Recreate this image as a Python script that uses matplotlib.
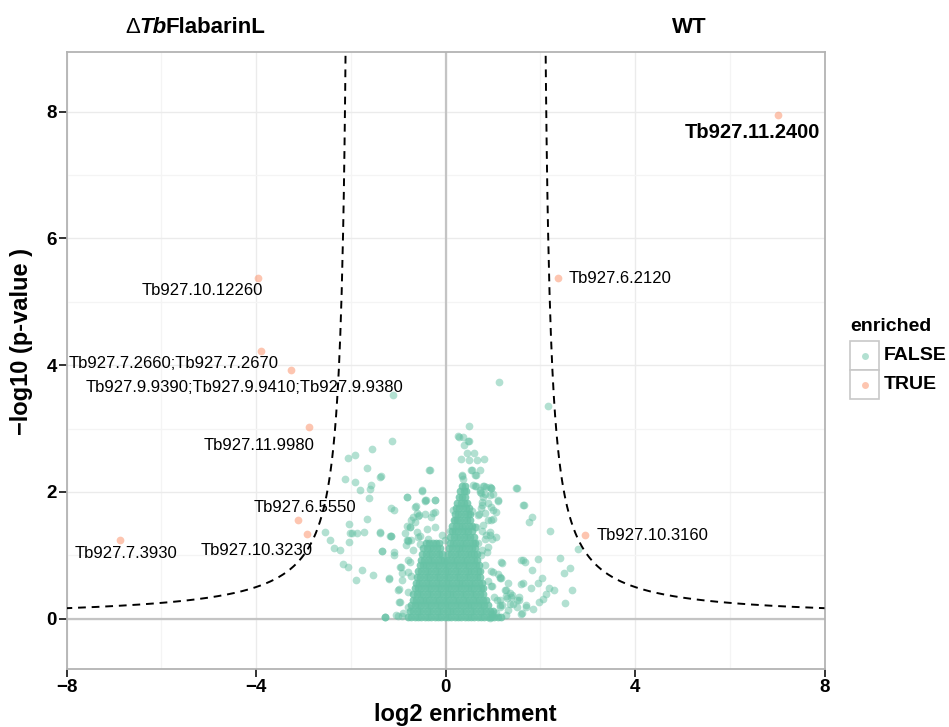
import numpy as np
import matplotlib
matplotlib.use("Agg")
import matplotlib.pyplot as plt
from matplotlib.patches import Rectangle
from matplotlib.lines import Line2D

plt.rcParams["font.family"] = ["Liberation Sans", "DejaVu Sans"]

W, H = 949, 727
GREEN = "#66c2a5"
ORANGE = "#fc8d62"

# enriched (TRUE) proteins: log2 enrichment, -log10 p, label
hit_x = [7.01, 2.38, 2.94, -3.97, -3.90, -3.26, -2.88, -3.12, -2.92, -6.87]
hit_y = [7.94, 5.38, 1.32, 5.38, 4.22, 3.92, 3.02, 1.56, 1.34, 1.24]
hit_names = ["Tb927.11.2400", "Tb927.6.2120", "Tb927.10.3160", "Tb927.10.12260",
             "Tb927.7.2660;Tb927.7.2670", "Tb927.9.9390;Tb927.9.9410;Tb927.9.9380",
             "Tb927.11.9980", "Tb927.6.5550", "Tb927.10.3230", "Tb927.7.3930"]
# label anchor positions (data units)
lab_x = [6.48, 2.60, 3.19, -5.13, -5.75, -4.25, -3.93, -2.96, -3.99, -6.75]
lab_y = [7.67, 5.36, 1.32, 5.17, 4.03, 3.65, 2.73, 1.76, 1.08, 1.03]

# non-enriched (FALSE) proteins, scattered points outside the dense core
bg_x = [-1.12, -1.13, -1.55, -2.06, -1.91, -1.67, -0.34, -2.13, -1.38, -1.91,
        -1.57, -1.60, -1.80, -0.49, -1.62, -0.82, -1.15, -0.64, -0.44, -0.23,
        -1.67, -2.04, -2.54, -1.97, -1.72, -1.39, -1.17, -2.45, -2.04, -2.36,
        -2.24, -1.34, -1.08, -2.17, -2.06, -1.77, -1.90, -1.53, -1.20, -0.93,
        -0.76, -1.00, -0.97, -1.27, -1.00, -2.01, -1.88, -1.16, -0.86, -0.80,
        -0.42, -0.63, -0.69, -0.56, -0.76, -0.23, -0.30, -0.83, -0.73, -1.04,
        -0.82, -0.73, -0.59, -0.55, -0.80, -0.94, -1.29, -0.90,
        -0.33, -1.36, -0.82, -1.10, -0.49, -0.44, -0.23, -0.26, -0.44, -0.61,
        -0.65, -0.75, -0.61, -0.40, -0.23, -0.82, -0.58, -0.37, -0.08, -1.39,
        -1.15, -1.35, -1.10, -0.79, -0.96, -0.79, -1.20, -0.93, -0.72, -0.99,
        -0.79, -0.99, -0.79, -0.93, -1.28, -0.68, -0.54,
        1.12, 2.16, 0.50, 0.27, 0.36, 0.49, 0.39, 0.46, 0.60, 0.32,
        0.49, 0.67, 0.81, 0.53, 0.63, 0.34, 0.37, 1.49, 0.81, 0.96,
        0.64, 0.75, 0.93, 1.10, 0.77, 0.96, 1.65, 1.83, 1.77, 1.00,
        0.79, 0.93, 1.07, 2.21, 2.79, 2.41, 1.96, 1.63, 1.67, 1.19,
        2.62, 2.51, 0.96, 1.10, 1.17, 1.83, 2.03, 1.95, 1.63, 1.31,
        0.96, 1.81, 2.19, 2.29, 2.67, 1.39, 1.56, 1.27, 2.12, 2.05,
        1.97, 2.52, 1.70, 1.84, 1.62, 1.50, 1.20, 1.07, 1.14, 1.36,
        0.86, 0.96, 1.07, 0.75, 0.72, 0.86, 0.79, 0.96, 0.58, 0.72,
        1.14, 1.28, 1.35, 1.14, 1.42, 1.56, 1.70, 1.28, 0.93, 0.28,
        0.47, 0.70, 0.62, 0.55, 0.88, 0.84, 1.02, 0.68, 0.74, 0.90,
        0.35, 0.55, 0.65, 0.62, 0.79, 0.94, 1.50, 0.72, 0.83, 1.00,
        1.11, 0.90, 0.76, 1.64, 0.69, 0.83, 1.00, 0.90, 0.65, 0.76,
        0.94, 0.83, 0.97, 0.90, 0.76, 0.16, 0.20, 0.09, -0.01, 1.18,
        1.00, 1.15, 1.60, 0.97, 1.25, 1.40, 1.60, 1.29, 1.50, 1.08,
        1.60, 1.32, 1.15, 0.97]
bg_y = [3.53, 2.81, 2.68, 2.54, 2.58, 2.37, 2.35, 2.20, 2.24, 2.16,
        2.11, 2.04, 2.03, 2.03, 1.90, 1.92, 1.74, 1.77, 1.85, 1.88,
        1.57, 1.49, 1.37, 1.36, 1.37, 1.36, 1.31, 1.24, 1.21, 1.12,
        1.09, 1.07, 1.00, 0.87, 0.81, 0.77, 0.61, 0.69, 0.64, 0.72,
        0.90, 0.46, 0.27, 0.02, 0.04, 1.35, 1.35, 1.30, 1.35, 1.24,
        1.87, 1.78, 1.61, 1.64, 1.45, 1.69, 1.61, 1.16, 1.24, 0.06,
        1.47, 1.55, 1.62, 1.30, 1.23, 0.81, 0.02, 0.09,
        2.35, 2.25, 1.92, 1.72, 2.02, 1.87, 1.87, 1.66, 1.65, 1.66,
        1.53, 1.45, 1.37, 1.42, 1.45, 1.24, 1.29, 1.26, 1.32, 1.37,
        1.30, 1.07, 1.05, 0.92, 0.82, 0.74, 0.63, 0.61, 0.68, 0.47,
        0.42, 0.26, 0.18, 0.05, 0.03, 1.08, 1.18,
        3.74, 3.35, 3.04, 2.88, 2.87, 2.80, 2.74, 2.62, 2.62, 2.52,
        2.50, 2.51, 2.52, 2.35, 2.27, 2.26, 2.20, 2.07, 2.09, 2.07,
        2.10, 1.99, 1.95, 1.87, 1.84, 1.76, 1.79, 1.61, 1.53, 1.58,
        1.48, 1.32, 1.29, 1.38, 1.10, 0.96, 0.95, 0.93, 0.90, 0.88,
        0.80, 0.72, 0.76, 0.70, 0.65, 0.77, 0.65, 0.56, 0.56, 0.57,
        0.52, 0.48, 0.49, 0.46, 0.46, 0.35, 0.35, 0.36, 0.39, 0.31,
        0.27, 0.25, 0.22, 0.15, 0.09, 0.19, 0.22, 0.09, 0.29, 0.24,
        1.32, 1.56, 1.69, 1.74, 2.03, 2.08, 1.92, 2.06, 2.11, 2.35,
        0.64, 0.45, 0.40, 0.22, 0.24, 0.29, 0.19, 0.06, 0.01, 2.87,
        2.80, 1.65, 1.45, 1.70, 1.05, 0.85, 0.35, 1.20, 1.00, 0.60,
        2.25, 2.34, 2.26, 2.10, 2.09, 2.08, 2.07, 2.00, 1.97, 1.97,
        1.86, 1.83, 1.79, 1.79, 1.63, 1.66, 1.71, 1.55, 1.45, 1.39,
        1.37, 1.26, 1.26, 1.13, 1.08, 1.71, 1.55, 1.39, 1.24, 0.89,
        0.74, 0.66, 0.92, 0.51, 0.45, 0.37, 0.55, 0.32, 0.29, 0.29,
        0.08, 0.13, 0.18, 0.08]

# dense core of the non-enriched cloud, read row by row (y level: x positions)
core_rows = [
    (0.03, [-0.79, -0.72, -0.65, -0.58, -0.51, -0.44, -0.37, -0.30, -0.23, -0.16, -0.09,
            -0.02, 0.05, 0.12, 0.19, 0.26, 0.33, 0.40, 0.47, 0.54, 0.61, 0.68, 0.75,
            0.82, 0.89, 0.96, 1.03, 1.10, 1.17]),
    (0.12, [-0.75, -0.68, -0.61, -0.54, -0.47, -0.40, -0.33, -0.26, -0.19, -0.12, -0.05,
            0.02, 0.09, 0.16, 0.23, 0.30, 0.37, 0.44, 0.51, 0.58, 0.65, 0.72, 0.79,
            0.86, 0.93, 1.00]),
    (0.21, [-0.72, -0.65, -0.58, -0.51, -0.44, -0.37, -0.30, -0.23, -0.16, -0.09, -0.02,
            0.05, 0.12, 0.19, 0.26, 0.33, 0.40, 0.47, 0.54, 0.61, 0.68, 0.75, 0.82, 0.89]),
    (0.30, [-0.69, -0.62, -0.55, -0.48, -0.41, -0.34, -0.27, -0.20, -0.13, -0.06, 0.01,
            0.08, 0.15, 0.22, 0.29, 0.36, 0.43, 0.50, 0.57, 0.64, 0.71, 0.78, 0.85]),
    (0.39, [-0.68, -0.61, -0.54, -0.47, -0.40, -0.33, -0.26, -0.19, -0.12, -0.05, 0.02,
            0.09, 0.16, 0.23, 0.30, 0.37, 0.44, 0.51, 0.58, 0.65, 0.72, 0.79]),
    (0.48, [-0.65, -0.58, -0.51, -0.44, -0.37, -0.30, -0.23, -0.16, -0.09, -0.02, 0.05,
            0.12, 0.19, 0.26, 0.33, 0.40, 0.47, 0.54, 0.61, 0.68, 0.75, 0.80]),
    (0.57, [-0.63, -0.56, -0.49, -0.42, -0.35, -0.28, -0.21, -0.14, -0.07, 0.00, 0.07,
            0.14, 0.21, 0.28, 0.35, 0.42, 0.49, 0.56, 0.63, 0.70, 0.77]),
    (0.66, [-0.60, -0.53, -0.46, -0.39, -0.32, -0.25, -0.18, -0.11, -0.04, 0.03, 0.10,
            0.17, 0.24, 0.31, 0.38, 0.45, 0.52, 0.59, 0.66, 0.73]),
    (0.75, [-0.58, -0.51, -0.44, -0.37, -0.30, -0.23, -0.16, -0.09, -0.02, 0.05, 0.12,
            0.19, 0.26, 0.33, 0.40, 0.47, 0.54, 0.61, 0.68, 0.73]),
    (0.84, [-0.55, -0.48, -0.41, -0.34, -0.27, -0.20, -0.13, -0.06, 0.01, 0.08, 0.15,
            0.22, 0.29, 0.36, 0.43, 0.50, 0.57, 0.64, 0.70]),
    (0.93, [-0.52, -0.45, -0.38, -0.31, -0.24, -0.17, -0.10, -0.03, 0.04, 0.11, 0.18,
            0.25, 0.32, 0.39, 0.46, 0.53, 0.60, 0.67]),
    (1.02, [-0.49, -0.42, -0.35, -0.28, -0.21, -0.14, -0.07, 0.05, 0.12, 0.19, 0.26,
            0.33, 0.40, 0.47, 0.54, 0.61, 0.66]),
    (1.11, [-0.47, -0.40, -0.33, -0.26, -0.19, -0.12, 0.07, 0.14, 0.21, 0.28, 0.35,
            0.42, 0.49, 0.56, 0.63]),
    (1.20, [-0.41, -0.34, -0.27, -0.20, -0.13, 0.09, 0.16, 0.23, 0.30, 0.37, 0.44,
            0.51, 0.58, 0.62]),
    (1.29, [0.10, 0.17, 0.24, 0.31, 0.38, 0.45, 0.52, 0.59]),
    (1.38, [0.13, 0.20, 0.27, 0.34, 0.41, 0.48, 0.55]),
    (1.47, [0.14, 0.21, 0.28, 0.35, 0.42, 0.49, 0.55]),
    (1.56, [0.17, 0.24, 0.31, 0.38, 0.45, 0.52]),
    (1.65, [0.19, 0.26, 0.33, 0.40, 0.47, 0.51]),
    (1.74, [0.22, 0.29, 0.36, 0.43, 0.49]),
    (1.83, [0.25, 0.32, 0.39, 0.46]),
    (1.92, [0.28, 0.35, 0.42]),
    (2.01, [0.31, 0.38, 0.43]),
    (2.10, [0.34, 0.40]),
]
core_x = [x for yv, xs in core_rows for x in xs]
core_y = [yv for yv, xs in core_rows for x in xs]

# significance threshold curve: -log10 p = C / (|log2 FC| - X0)
C_THR, X0_THR = 1.0, 2.0


def px2fig(px, py):
    return px / W, 1 - py / H


fig = plt.figure(figsize=(W / 100, H / 100), dpi=100)
l, b = px2fig(66.7, 669)
r, t = px2fig(824.5, 52)
ax = fig.add_axes([l, b, r - l, t - b])

ax.set_xlim(-8, 8)
ax.set_ylim(-0.793, 8.94)
ax.set_xticks([-8, -4, 0, 4, 8])
ax.set_xticks([-6, -2, 2, 6], minor=True)
ax.set_yticks([0, 2, 4, 6, 8])
ax.set_yticks([1, 3, 5, 7], minor=True)
ax.grid(which="major", color="#ebebeb", lw=1.0, zorder=0)
ax.grid(which="minor", color="#f4f4f4", lw=0.9, zorder=0)
ax.set_axisbelow(True)
ax.tick_params(which="minor", length=0)
ax.tick_params(which="major", direction="out", length=5.5, width=1.3,
               color="#222222", labelsize=13.5, pad=1.5)
for lab in ax.get_xticklabels() + ax.get_yticklabels():
    lab.set_fontweight("bold")
for sp in ax.spines.values():
    sp.set_color("#b3b3b3")
    sp.set_linewidth(1.3)

ax.axhline(0, color="#c4c4c4", lw=1.6, zorder=1)
ax.axvline(0, color="#c4c4c4", lw=1.6, zorder=1)

# the core stands for hundreds of overlapping proteins, so it is drawn more opaque
ax.scatter(core_x, core_y, s=31, color=GREEN, alpha=0.8, lw=0, zorder=2)
ax.scatter(bg_x, bg_y, s=31, color=GREEN, alpha=0.5, lw=0, zorder=2)
ax.scatter(hit_x, hit_y, s=31, color=ORANGE, alpha=0.5, lw=0, zorder=2)

xr = np.linspace(X0_THR + 0.105, 8, 400)
yr = C_THR / (xr - X0_THR)
ax.plot(xr, yr, color="black", lw=1.4, ls=(0, (4, 3)), zorder=3)
ax.plot(-xr, yr, color="black", lw=1.4, ls=(0, (4, 3)), zorder=3)

for i, name in enumerate(hit_names):
    if i == 0:
        ax.text(lab_x[i], lab_y[i], name, ha="center", va="center",
                fontsize=14.5, fontweight="bold", zorder=4)
    elif i in (1, 2):
        ax.text(lab_x[i], lab_y[i], name, ha="left", va="center",
                fontsize=12, zorder=4)
    else:
        ax.text(lab_x[i], lab_y[i], name, ha="center", va="center",
                fontsize=12, zorder=4)

# axis titles
fx, fy = px2fig(465, 714)
fig.text(fx, fy, "log2 enrichment", ha="center", va="center",
         fontsize=17, fontweight="bold")
fx, fy = px2fig(21.7, 341.7)
fig.text(fx, fy, "\u2212log10 (p-value )", ha="center", va="center",
         rotation=90, fontsize=17, fontweight="bold")

# condition titles above the panel
fig.canvas.draw()
rend = fig.canvas.get_renderer()
parts = [("\u0394", "normal", "normal"), ("Tb", "bold", "italic"),
         ("FlabarinL", "bold", "normal")]
texts = []
for s, wgt, sty in parts:
    texts.append(fig.text(0, 1 - 27.5 / H, s, ha="left", va="center",
                          fontsize=16, fontweight=wgt, fontstyle=sty))
widths = [tx.get_window_extent(rend).width for tx in texts]
widths[1] -= 2
x0 = 195 - sum(widths) / 2
for tx, wd in zip(texts, widths):
    tx.set_x(x0 / W)
    x0 += wd
fx, fy = px2fig(689.5, 27.5)
fig.text(fx, fy, "WT", ha="center", va="center", fontsize=16, fontweight="bold")

# legend
fx, fy = px2fig(850, 326.7)
fig.text(fx, fy, "enriched", ha="left", va="center", fontsize=14, fontweight="bold")
for k, (name, col) in enumerate([("FALSE", GREEN), ("TRUE", ORANGE)]):
    top = 341 + 29 * k
    bx, by = px2fig(850, top + 29)
    fig.patches.append(Rectangle((bx, by), 29 / W, 29 / H, transform=fig.transFigure,
                                 facecolor="white", edgecolor="#c8c8c8", lw=1.2))
    cx, cy = px2fig(864.5, top + 14.5)
    fig.lines.append(Line2D([cx], [cy], transform=fig.transFigure, marker="o",
                            ms=5, color=col, alpha=0.5, mec="none", ls="none"))
    tx, ty = px2fig(884, top + 14.5)
    fig.text(tx, ty, name, ha="left", va="center", fontsize=14, fontweight="bold")

fig.savefig("out.png", dpi=100)
